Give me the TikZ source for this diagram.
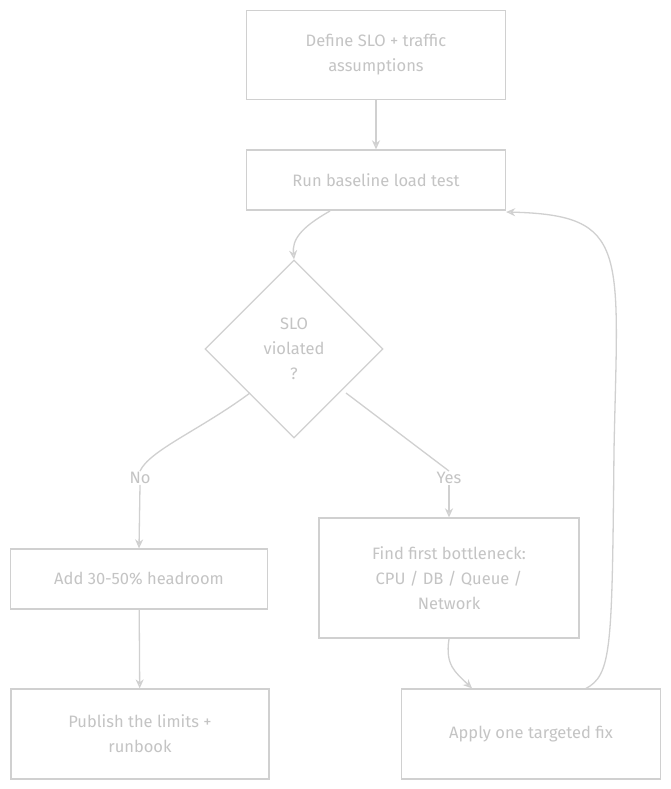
\documentclass[tikz,border=0pt]{standalone}
\usepackage{fontspec}
\setmainfont{Fira Sans}
\usetikzlibrary{shapes.geometric,arrows.meta}
\definecolor{ln}{HTML}{D0D0D0}
\definecolor{tx}{HTML}{C4C4C4}
\begin{document}
\begin{tikzpicture}[x=1pt,y=-1pt,
  box/.style={draw=ln,line width=1.3pt,rectangle,inner sep=0,align=center,text=tx,font=\fontsize{16.5}{25}\selectfont},
  dia/.style={draw=ln,line width=1.3pt,diamond,aspect=1,inner sep=0,minimum width=178pt,minimum height=178pt,align=center,text=tx,font=\fontsize{16.5}{25}\selectfont},
  arr/.style={draw=ln,line width=1.3pt,-{Stealth[length=9pt,width=8pt,open]}},
  lab/.style={text=tx,font=\fontsize{16.5}{20}\selectfont,fill=white,inner sep=1pt}]
\fill[white] (0,0) rectangle (671,789);
\useasboundingbox (0,0) rectangle (671,789);
\node[box,minimum width=259pt,minimum height=89pt] (def) at (376,55) {Define SLO + traffic\\assumptions};
\node[box,minimum width=259pt,minimum height=60pt] (run) at (376,180) {Run baseline load test};
\node[dia] (slo) at (294,349) {SLO\\violated\\?};
\node[box,minimum width=257pt,minimum height=60pt] (head) at (139,579) {Add 30-50\% headroom};
\node[box,minimum width=260pt,minimum height=120pt] (find) at (449,578) {Find first bottleneck:\\CPU / DB / Queue /\\Network};
\node[box,minimum width=258pt,minimum height=90pt] (pub) at (140,734) {Publish the limits +\\runbook};
\node[box,minimum width=259pt,minimum height=90pt] (fix) at (531,734) {Apply one targeted fix};
\coordinate (r1) at (330,211);
\coordinate (d1) at (250,393);
\coordinate (d2) at (346,393);
\node[lab] (no) at (140,478) {No};
\node[lab] (yes) at (449,478) {Yes};
\coordinate (f1) at (449,639);
\coordinate (x1) at (585,689);
\draw[arr] (def) -- (run);
\draw[arr] (r1) .. controls (300,228) and (292,240) .. (slo.north);
\draw[draw=ln,line width=1.3pt] (d1) .. controls (200,430) and (150,450) .. (no.north);
\draw[arr] (no.south) -- (head.north);
\draw[draw=ln,line width=1.3pt] (d2) -- (yes.north);
\draw[arr] (yes.south) -- (find.north);
\draw[arr] (f1) .. controls (445,665) and (455,672) .. ([xshift=-59pt]fix.north);
\draw[arr] (x1) .. controls (612,675) and (612,650) .. (614,450) .. controls (618,250) and (630,215) .. (run.east |- 0,212) ;
\draw[arr] (head) -- (pub);
\end{tikzpicture}
\end{document}
